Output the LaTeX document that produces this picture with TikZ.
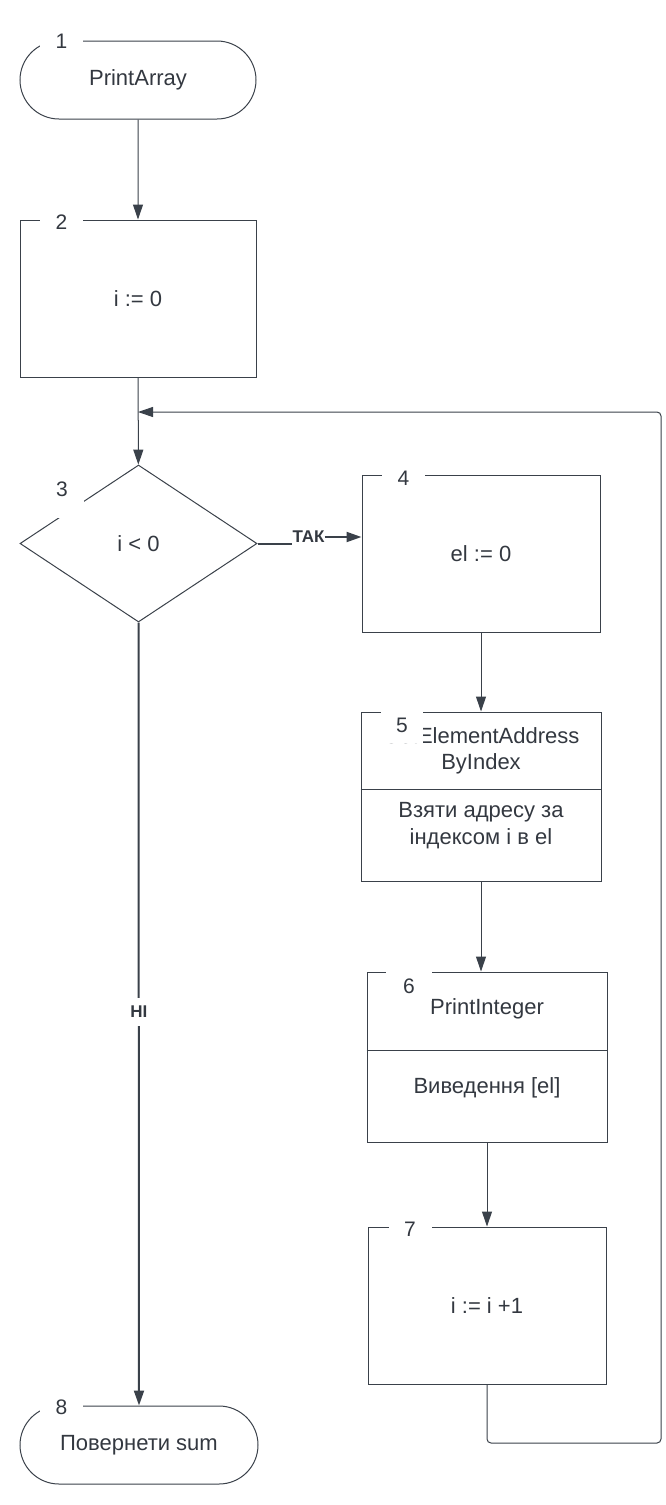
\documentclass[tikz,border=0pt]{standalone}
\usepackage{fontspec}
\setmainfont{Liberation Sans}
\usepackage{xcolor}
\usetikzlibrary{positioning,shapes.geometric,shapes.misc,arrows.meta}
\definecolor{lucidline}{RGB}{58,65,74}
\definecolor{lucidtext}{RGB}{51,56,64}
\tikzset{
base/.style={draw=lucidline, line width=1pt, text=lucidtext, font=\fontsize{22}{26.5}\selectfont, align=center, inner sep=0pt},
terminal/.style={base, rounded rectangle, minimum width=236pt, minimum height=78pt},
process/.style={base, rectangle, minimum width=237pt, minimum height=157pt},
decision/.style={base, diamond, minimum width=237pt, minimum height=157pt},
subproc/.style={base, rectangle, minimum width=240pt, minimum height=169pt},
txt/.style={text=lucidtext, font=\fontsize{22}{26.5}\selectfont, align=center, inner sep=0pt},
num/.style={fill=white, text=lucidtext, font=\fontsize{21}{25}\selectfont, minimum width=43pt, minimum height=20pt, inner sep=0pt},
flow/.style={draw=lucidline, line width=1pt, -{Triangle[length=15pt,width=10pt]}},
answer/.style={text=lucidtext, font=\fontsize{17}{20}\selectfont\bfseries, inner sep=0pt}
}
\newcommand{\nmb}[2]{node[num](#1){#2}}

\begin{document}
\begin{tikzpicture}[x=1pt,y=-1pt]
\useasboundingbox (0,0) rectangle (666,1505);

% blocks
\node[terminal] (t1) at (138,80) {PrintArray};
\node[process, minimum width=236pt] (b2) at (138,298.5) {i := 0};
\node[decision] (d3) at (138.5,543.5) {i < 0};
\node[process, minimum width=238pt] (b4) at (481,553.5) {el := 0};
\node[subproc] (b5) at (481,796.5) {};
\node[subproc, minimum height=170pt] (b6) at (487,1057) {};
\node[process, minimum width=238pt] (b7) at (487,1305.5) {i := i +1};
\node[terminal, minimum width=238pt] (t8) at (139,1445) {Повернети sum};

\draw[lucidline, line width=1pt] (b5.west |- 0,789) -- (b5.east |- 0,789);
\draw[lucidline, line width=1pt] (b6.west |- 0,1050) -- (b6.east |- 0,1050);
\node[txt] (b5top) at (481,751) {GetElementAddress\\ByIndex};
\node[txt] (b5bot) at (481,825.5) {Взяти адресу за\\індексом і в el};
\node[txt] (b6top) at (487,1009) {PrintInteger};
\node[txt] (b6bot) at (487,1088) {Виведення [el]};

% numbers
\path (61.5,41) \nmb{n1}{1};
\path (61.5,222) \nmb{n2}{2};
\path (62,498) node[num, minimum height=40pt, text depth=18pt] (n3) {3};
\path (403.5,478) \nmb{n4}{4};
\path (402,727) node[num, minimum width=42pt, minimum height=32pt, text depth=4pt] (n5) {5};
\path (409,986) node[num, minimum width=46pt, minimum height=30pt] (n6) {6};
\path (410,1229.5) \nmb{n7}{7};
\path (61.5,1407.5) \nmb{n8}{8};

% connectors
\coordinate (join) at (138,412);
\draw[flow] (t1) -- (b2);
\draw[flow] (b2) -- (d3);
\draw[flow] (b4) -- (b5);
\draw[flow] (b5.south) -- (b5.south |- b6.north);
\draw[flow] (b6) -- (b7);
\draw[flow, rounded corners=4pt] (b7.south) -- (b7.south |- 0,1443) -- (661,1443) -- (661,412) -- (join);

\node[answer] (tak) at (308.5,537) {ТАК};
\draw[lucidline, line width=2pt] (d3.east) -- (d3.east -| tak.west);
\draw[flow, line width=2pt] (tak.east) -- (tak.east -| b4.west);
\draw[flow, line width=2pt] (d3.south) -- (t8.north)
  node[answer, pos=0.497, fill=white, inner ysep=8pt, inner xsep=2pt] (ni) {НІ};
\end{tikzpicture}
\end{document}
